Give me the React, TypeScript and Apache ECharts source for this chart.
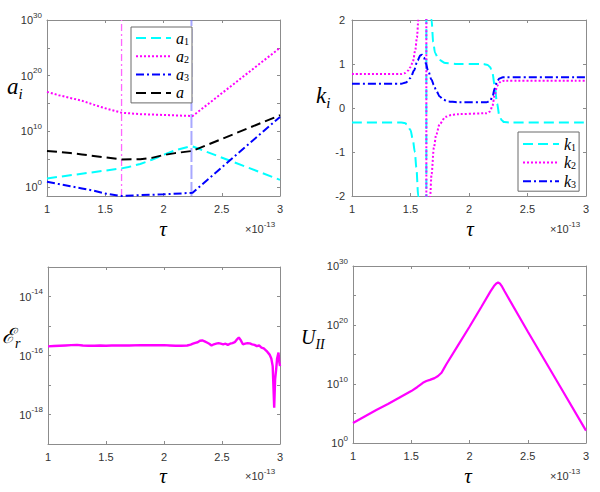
import React, { useEffect, useRef } from "react";
import * as echarts from "echarts";

// ---------- data (tau in units of 1e-13; log-panels hold log10 of the value) ----------
const tauTicks = [1, 1.5, 2, 2.5, 3];

// top-left: log10(a_i)
const a1Pts: [number, number][] = [
  [1, 1.56], [1.64, 3.36], [1.7, 3.6], [1.8, 4.15], [1.9, 4.9], [2.0, 5.8], [2.1, 6.6], [2.2, 7.15], [2.25, 7.3], [3, 1.3],
];
const a2Pts: [number, number][] = [
  [1, 17.1], [1.1, 16.5], [1.2, 16.0], [1.3, 15.5], [1.4, 14.8], [1.5, 14.15], [1.64, 13.35], [1.8, 13.1], [2.0, 12.95], [2.2, 12.8], [2.25, 12.75], [3, 25.0],
];
const a3Pts: [number, number][] = [
  [1, 0.95], [1.1, 0.55], [1.2, 0.15], [1.3, -0.24], [1.4, -0.65], [1.5, -1.14], [1.64, -1.6], [1.8, -1.45], [2.0, -1.3], [2.2, -1.08], [2.25, -1.0], [3, 12.6],
];
const aPts: [number, number][] = [
  [1, 6.5], [1.1, 6.3], [1.2, 6.1], [1.3, 5.87], [1.4, 5.6], [1.5, 5.33], [1.64, 4.97], [1.8, 5.0], [1.9, 5.25], [2.0, 5.75], [2.1, 6.1], [2.25, 6.5], [3, 12.9],
];
const markTau = [1.64, 2.24];
const aExpRange = [-1.6, 30];

// top-right: k_i
const k1Pts: [number, number][] = [
  [1, -0.33], [1.42, -0.33], [1.45, -0.34], [1.47, -0.37], [1.5, -0.5], [1.52, -0.72], [1.537, -1.0], [1.55, -1.35], [1.566, -2.0], [1.59, -3.5], [1.62, -12], [1.635, -100],
  [1.636, 100], [1.66, 5], [1.68, 2.0], [1.694, 1.5], [1.71, 1.25], [1.74, 1.1], [1.8, 1.02], [1.9, 1.0], [2.12, 1.0], [2.16, 0.98], [2.18, 0.93], [2.2, 0.8], [2.22, 0.5],
  [2.24, 0.1], [2.26, -0.18], [2.28, -0.28], [2.3, -0.32], [2.35, -0.33], [3, -0.33],
];
const k2Pts: [number, number][] = [
  [1, 0.77], [1.42, 0.77], [1.45, 0.79], [1.48, 0.85], [1.5, 0.93], [1.52, 1.05], [1.54, 1.3], [1.555, 1.6], [1.567, 2.0], [1.59, 3.5], [1.62, 12], [1.635, 100],
  [1.636, -100], [1.65, -8], [1.668, -2.0], [1.68, -1.5], [1.7, -0.9], [1.72, -0.6], [1.75, -0.36], [1.8, -0.2], [1.85, -0.16], [1.9, -0.14], [2.15, -0.12],
  [2.18, -0.08], [2.2, 0.05], [2.22, 0.3], [2.24, 0.5], [2.26, 0.58], [2.28, 0.61], [2.3, 0.62], [3, 0.62],
];
const k3Pts: [number, number][] = [
  [1, 0.55], [1.42, 0.55], [1.46, 0.58], [1.5, 0.68], [1.53, 0.85], [1.56, 1.08], [1.585, 1.2], [1.6, 1.21], [1.615, 1.15], [1.63, 1.02], [1.65, 0.85], [1.68, 0.64],
  [1.7, 0.52], [1.72, 0.39], [1.75, 0.26], [1.78, 0.19], [1.82, 0.15], [1.9, 0.13], [2.15, 0.13], [2.18, 0.16], [2.2, 0.25], [2.22, 0.45], [2.24, 0.6], [2.26, 0.67],
  [2.29, 0.7], [3, 0.7],
];

// bottom-left: log10(E_r)
const erPts: [number, number][] = [
  [1.0, -15.69], [1.05, -15.68], [1.1, -15.67], [1.15, -15.66], [1.2, -15.65], [1.25, -15.64], [1.3, -15.66], [1.35, -15.67], [1.4, -15.67], [1.45, -15.66],
  [1.5, -15.67], [1.55, -15.66], [1.6, -15.66], [1.7, -15.66], [1.8, -15.65], [1.9, -15.65], [2.0, -15.65], [2.05, -15.66], [2.1, -15.67], [2.15, -15.67],
  [2.2, -15.66], [2.23, -15.63], [2.25, -15.6], [2.27, -15.57], [2.29, -15.55], [2.31, -15.5], [2.33, -15.49], [2.35, -15.52], [2.37, -15.56], [2.39, -15.6],
  [2.41, -15.66], [2.43, -15.62], [2.45, -15.6], [2.47, -15.58], [2.49, -15.6], [2.51, -15.62], [2.53, -15.6], [2.55, -15.64], [2.57, -15.6], [2.59, -15.58],
  [2.61, -15.55], [2.63, -15.45], [2.645, -15.39], [2.66, -15.47], [2.68, -15.62], [2.7, -15.6], [2.72, -15.58], [2.74, -15.59], [2.76, -15.62], [2.78, -15.64],
  [2.8, -15.68], [2.82, -15.66], [2.84, -15.73], [2.86, -15.76], [2.885, -15.85], [2.91, -15.97], [2.925, -16.1], [2.937, -16.36], [2.95, -17.77], [2.958, -16.8],
  [2.967, -16.47], [2.975, -16.1], [2.987, -15.9], [2.993, -16.2], [3.0, -16.36],
];

// bottom-right: log10(U_II)
const uPts: [number, number][] = [
  [1, 3.4], [1.1, 4.5], [1.2, 5.6], [1.3, 6.6], [1.4, 7.7], [1.5, 8.8], [1.55, 9.45], [1.58, 9.9], [1.6, 10.2], [1.63, 10.5], [1.66, 10.7], [1.7, 11.0],
  [1.73, 11.35], [1.76, 11.9], [1.78, 12.6], [1.8, 13.3], [1.9, 16.5], [2.0, 19.7], [2.1, 23.0], [2.18, 25.7], [2.21, 26.6], [2.23, 27.05], [2.245, 27.2],
  [2.26, 27.05], [2.28, 26.5], [2.3, 25.75], [2.5, 18.9], [2.75, 10.5], [3, 2.1],
];

// tick / label exponents
const aTickExp = [0, 5, 10, 15, 20, 25, 30];
const aLabelExp = [0, 10, 20, 30];
const erMajorExp = [-19, -18, -17, -16, -15, -14, -13];
const erLabelExp = [-18, -16, -14];
const uTickExp = [0, 5, 10, 15, 20, 25, 30];
const uLabelExp = [0, 10, 20, 30];

// ---------- styling ----------
const FRAME = "#8c8c8c";
const TXT = "#333333";
const SANS = "'Liberation Sans', Arial, Helvetica, sans-serif";
const SERIF = "'Liberation Serif', 'DejaVu Serif', serif";
const CYAN = "#00ffff";
const MAG = "#ff00ff";
const BLUE = "#0000ff";

const grids = [
  { left: 47, top: 20, width: 233, height: 176 },
  { left: 352, top: 20, width: 234, height: 176 },
  { left: 48, top: 267, width: 232, height: 177 },
  { left: 353, top: 266, width: 233, height: 177 },
];

const powRich = {
  b: { fontFamily: SANS, fontSize: 11, lineHeight: 18, color: TXT },
  s: { fontFamily: SANS, fontSize: 8, lineHeight: 8, verticalAlign: "top", color: TXT },
};
const powFmt = (v: number) => `{b|10}{s|${Math.round(v)}}`;

function xAxes(gi: number) {
  const base = {
    type: "value",
    gridIndex: gi,
    min: tauTicks[0],
    max: tauTicks[tauTicks.length - 1],
    interval: 0.5,
    axisLine: { show: true, onZero: false, lineStyle: { color: FRAME, width: 1 } },
    axisTick: { show: true, inside: true, length: 3, lineStyle: { color: FRAME } },
    splitLine: { show: false },
  };
  return [
    { ...base, position: "bottom", axisLabel: { show: true, color: TXT, fontFamily: SANS, fontSize: 11, margin: 7 } },
    { ...base, position: "top", axisLabel: { show: false } },
  ];
}

function yAxes(gi: number, min: number, max: number, tickVals?: number[], labelVals?: number[], interval?: number) {
  const base: any = {
    type: "value",
    gridIndex: gi,
    min,
    max,
    axisLine: { show: true, onZero: false, lineStyle: { color: FRAME, width: 1 } },
    axisTick: { show: true, inside: true, length: 3, lineStyle: { color: FRAME } },
    splitLine: { show: false },
  };
  if (interval) base.interval = interval;
  if (tickVals) base.axisTick = { ...base.axisTick, customValues: tickVals };
  const left: any = { ...base, position: "left" };
  if (labelVals) {
    left.axisLabel = { show: true, customValues: labelVals, formatter: powFmt, rich: powRich, margin: 5 };
  } else {
    left.axisLabel = { show: true, color: TXT, fontFamily: SANS, fontSize: 11, margin: 7 };
  }
  return [left, { ...base, position: "right", axisLabel: { show: false } }];
}

function mathText(x: number, y: number, base: string, sub: string, baseSize: number, subSize: number) {
  return {
    type: "text",
    x,
    y,
    style: {
      text: sub ? `{v|${base}}{s|${sub}}` : `{v|${base}}`,
      align: "left",
      verticalAlign: "middle",
      rich: {
        v: { fontFamily: SERIF, fontStyle: "italic", fontSize: baseSize, lineHeight: baseSize + 8, fill: "#000", color: "#000" },
        s: { fontFamily: SERIF, fontStyle: "italic", fontSize: subSize, lineHeight: subSize, verticalAlign: "bottom", fill: "#000", color: "#000" },
      },
    },
  };
}

function tauText(x: number, y: number) {
  return {
    type: "text",
    x,
    y,
    style: { text: "τ", fontFamily: SERIF, fontStyle: "italic", fontSize: 21, fill: "#000", align: "center", verticalAlign: "middle" },
  };
}

function scaleText(x: number, y: number) {
  return {
    type: "text",
    x,
    y,
    style: {
      text: "{b|×10}{s|-13}",
      align: "left",
      verticalAlign: "middle",
      rich: {
        b: { fontFamily: SANS, fontSize: 11, lineHeight: 18, fill: TXT, color: TXT },
        s: { fontFamily: SANS, fontSize: 8, lineHeight: 8, verticalAlign: "top", fill: TXT, color: TXT },
      },
    },
  };
}

const legendRich = {
  v: { fontFamily: SERIF, fontStyle: "italic", fontSize: 16, lineHeight: 16, color: "#000" },
  s: { fontFamily: SERIF, fontSize: 10, lineHeight: 8, verticalAlign: "bottom", color: "#000" },
};
const legendFmt = (name: string) => (name.length > 1 ? `{v|${name[0]}}{s|${name.slice(1)}}` : `{v|${name}}`);

function lineSeries(name: string, gi: number, data: [number, number][], color: string, type: any, width = 2, extra: any = {}) {
  return {
    name,
    type: "line",
    xAxisIndex: gi * 2,
    yAxisIndex: gi * 2,
    data,
    symbol: "none",
    showSymbol: false,
    clip: true,
    color,
    lineStyle: { color, width, type },
    itemStyle: { color },
    ...extra,
  };
}

// vertical reference line spanning the full y-range of panel 0
function vLine(name: string, tau: number, color: string, width: number, type: any) {
  const pts: [number, number][] = [
    [tau, aExpRange[0]],
    [tau, aExpRange[1]],
  ];
  return { ...lineSeries(name, 0, pts, color, type, width), silent: true, z: 1 };
}

const legendBase = {
  orient: "vertical",
  itemHeight: 14,
  borderColor: "#6a6a6a",
  borderWidth: 1,
  backgroundColor: "#ffffff",
  selectedMode: false,
  formatter: legendFmt,
  textStyle: { rich: legendRich },
  itemStyle: { color: "rgba(0,0,0,0)", borderWidth: 0, opacity: 0 },
};

export default function App() {
  const ref = useRef<HTMLDivElement>(null);
  useEffect(() => {
    if (!ref.current) return;
    const chart = echarts.init(ref.current, undefined, { renderer: "svg" });
    const option: any = {
      animation: false,
      backgroundColor: "#ffffff",
      grid: grids.map((g) => ({ ...g, containLabel: false })),
      xAxis: [...xAxes(0), ...xAxes(1), ...xAxes(2), ...xAxes(3)],
      yAxis: [
        ...yAxes(0, aExpRange[0], aExpRange[1], aTickExp, aLabelExp),
        ...yAxes(1, -2, 2, undefined, undefined, 1),
        ...yAxes(2, -19, -13, erMajorExp, erLabelExp),
        ...yAxes(3, 0, 30, uTickExp, uLabelExp),
      ],
      legend: [
        {
          ...legendBase,
          data: ["a1", "a2", "a3", "a"],
          left: 131,
          top: 27,
          padding: [3, 3, 2, 4],
          itemWidth: 35,
          itemGap: 2.3,
        },
        {
          ...legendBase,
          data: ["k1", "k2", "k3"],
          left: 518,
          top: 132,
          padding: [4, 3, 2, 4],
          itemWidth: 36,
          itemGap: 2.6,
        },
      ],
      series: [
        vLine("pole", markTau[0], "#ff66ff", 1.3, [7, 3, 2, 3]),
        vLine("peak", markTau[1], "rgba(110,110,255,0.6)", 2, [14, 3]),
        lineSeries("a1", 0, a1Pts, CYAN, [10, 5]),
        lineSeries("a2", 0, a2Pts, MAG, [2, 2]),
        lineSeries("a3", 0, a3Pts, BLUE, [8, 3, 2, 3]),
        lineSeries("a", 0, aPts, "#000000", [10, 5]),
        lineSeries("k1", 1, k1Pts, CYAN, [10, 5], 2, { smooth: 0.3, smoothMonotone: "x" }),
        lineSeries("k2", 1, k2Pts, MAG, [2, 2], 2, { smooth: 0.3, smoothMonotone: "x" }),
        lineSeries("k3", 1, k3Pts, BLUE, [8, 3, 2, 3], 2, { smooth: 0.3, smoothMonotone: "x" }),
        lineSeries("Er", 2, erPts, MAG, "solid", 2.4),
        lineSeries("UII", 3, uPts, MAG, "solid", 2.2),
      ],
      graphic: [
        mathText(7, 86, "a", "i", 23, 15),
        mathText(316, 95, "k", "i", 23, 15),
        mathText(2, 336, "ℰ", "r", 21, 14),
        mathText(301, 337, "U", "II", 20, 14),
        tauText(163, 229),
        tauText(470, 229),
        tauText(163, 476),
        tauText(468, 476),
        scaleText(245, 229),
        scaleText(550, 229),
        scaleText(245, 476),
        scaleText(550, 476),
      ],
    };
    chart.setOption(option);
    return () => chart.dispose();
  }, []);
  return (
    <div
      ref={ref}
      style={{ position: "absolute", left: 0, top: 0, width: 600, height: 492, background: "#fff" }}
    />
  );
}
